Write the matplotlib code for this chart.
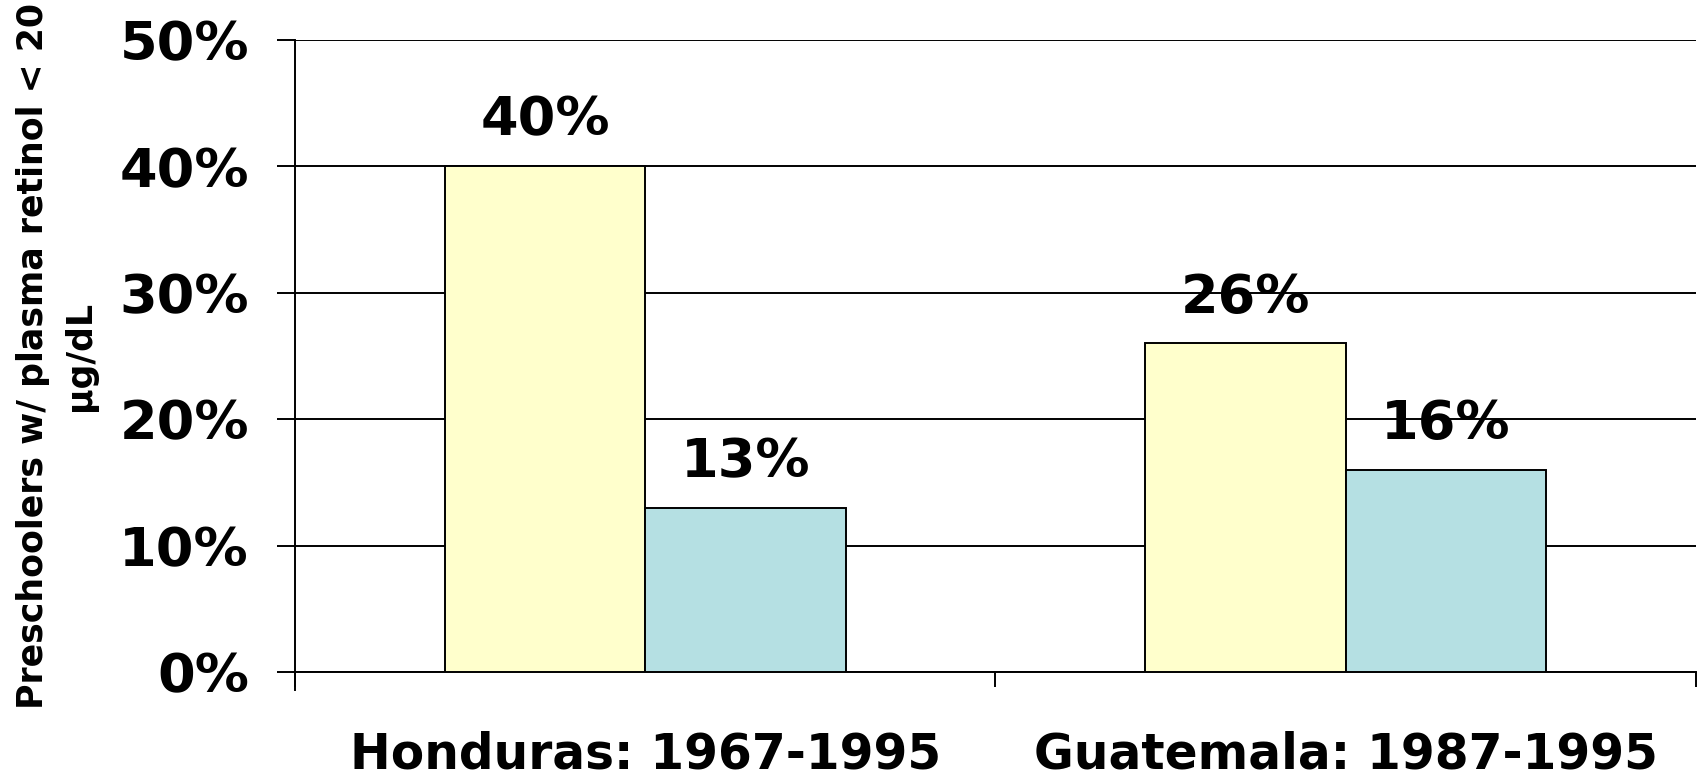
import matplotlib
matplotlib.use("Agg")
import matplotlib.pyplot as plt
from matplotlib.ticker import FixedLocator, PercentFormatter

categories = ["Honduras: 1967-1995", "Guatemala: 1987-1995"]
series_before = [40, 26]
series_after = [13, 16]
yticks = [0, 10, 20, 30, 40, 50]
ylabel = "Preschoolers w/ plasma retinol < 20\nµg/dL"

plt.rcParams['font.family'] = ['DejaVu Sans']
plt.rcParams['font.weight'] = 'bold'

fig = plt.figure(figsize=(17.02, 7.79), dpi=100)
ax = fig.add_axes([0.1733, 0.1374, 0.9965 - 0.1733, 0.9487 - 0.1374])

w = 0.286
x = list(range(len(categories)))
b1 = ax.bar([i - w / 2 for i in x], series_before, width=w, color="#FFFFCC",
            edgecolor="black", linewidth=1.4, zorder=3)
b2 = ax.bar([i + w / 2 for i in x], series_after, width=w, color="#B5E0E3",
            edgecolor="black", linewidth=1.4, zorder=3)

for bars, vals in ((b1, series_before), (b2, series_after)):
    for r, v in zip(bars, vals):
        ax.annotate(f"{v}%", (r.get_x() + r.get_width() / 2, v),
                    xytext=(0, 22), textcoords="offset points",
                    ha="center", va="baseline", fontsize=39, fontweight="bold",
                    zorder=5)

ax.set_xlim(-0.5, len(categories) - 0.5)
ax.set_ylim(0, 50)
ax.set_yticks(yticks)
ax.yaxis.set_major_formatter(PercentFormatter(decimals=0))
ax.grid(axis="y", color="black", linewidth=1.4, zorder=1)
ax.set_axisbelow(True)

ax.set_xticks(x)
ax.set_xticklabels(categories, fontsize=35, fontweight="bold")
ax.xaxis.set_minor_locator(FixedLocator([i - 0.5 for i in range(len(categories) + 1)]))
ax.tick_params(axis="x", which="major", length=0, pad=42)
ax.tick_params(axis="x", which="minor", length=11, width=1.4, direction="out")
ax.tick_params(axis="y", length=13, width=1.4, pad=20, labelsize=39)
for lab in ax.get_yticklabels():
    lab.set_fontweight("bold")

for s in ("top", "right"):
    ax.spines[s].set_visible(False)
ax.spines["left"].set_linewidth(1.4)
ax.spines["bottom"].set_linewidth(1.4)
ax.spines["left"].set_bounds(-1.4, 50)

ax.set_ylabel(ylabel, fontsize=25, fontweight="bold", linespacing=1.5, labelpad=16)

fig.savefig("out.png", dpi=100)
